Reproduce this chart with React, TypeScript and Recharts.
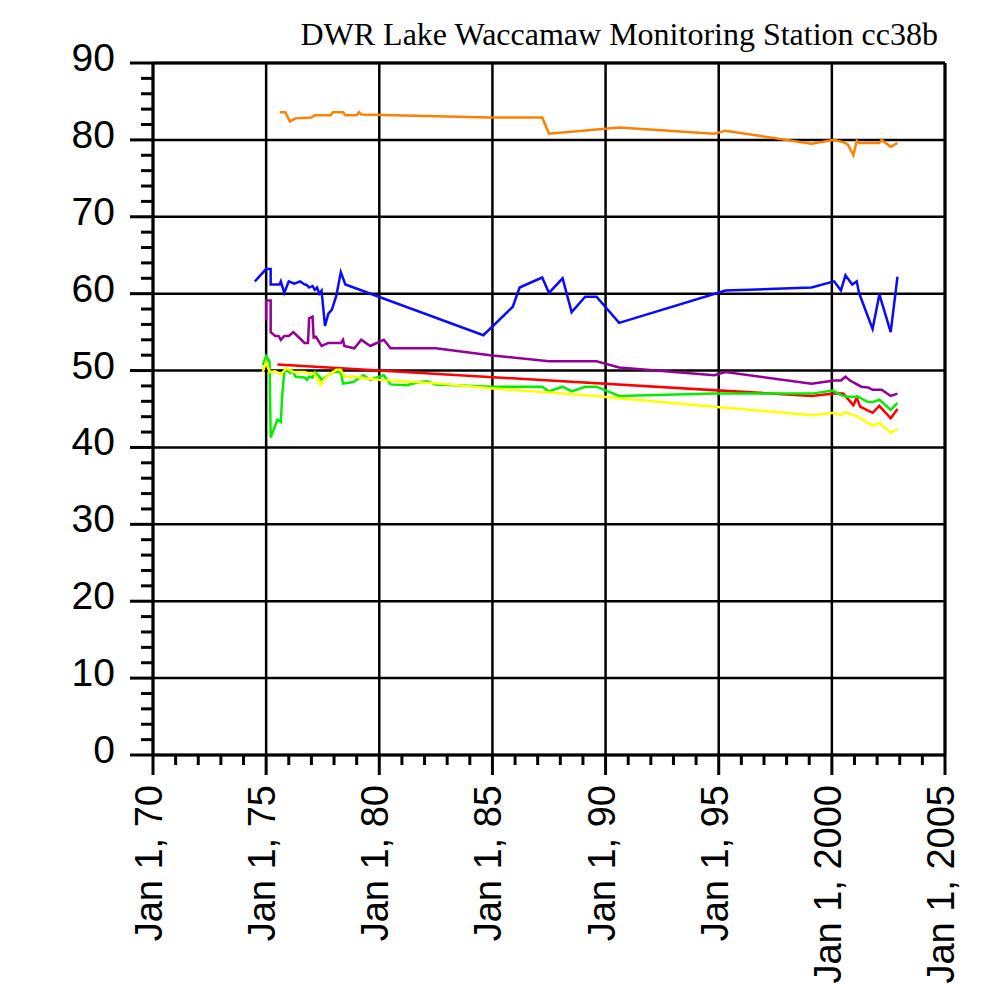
import React from "react";
import { LineChart, Line, XAxis, YAxis, CartesianGrid, ReferenceLine } from "recharts";

// ---- data: [decimal year, value] ----
const orange: number[][] = [
  [1975.6, 83.6], [1975.85, 83.6], [1976.05, 82.4], [1976.3, 82.8], [1977.0, 82.9], [1977.15, 83.2],
  [1977.85, 83.2], [1977.95, 83.6], [1978.4, 83.6], [1978.5, 83.2], [1979.0, 83.2], [1979.1, 83.6],
  [1979.2, 83.3], [1984.9, 82.9], [1987.2, 82.9], [1987.5, 80.8], [1990.6, 81.6], [1994.8, 80.8],
  [1995.3, 81.2], [1999.1, 79.5], [2000.1, 80.0], [2000.5, 79.7], [2000.7, 79.4], [2000.95, 78.0],
  [2001.1, 79.9], [2001.2, 79.6], [2002.1, 79.6], [2002.2, 80.0], [2002.6, 79.1], [2002.9, 79.6],
];
const blue: number[][] = [
  [1974.5, 61.6], [1975.0, 63.2], [1975.2, 63.2], [1975.2, 61.2], [1975.6, 61.2], [1975.65, 61.6],
  [1975.8, 60.1], [1976.0, 61.6], [1976.25, 61.3], [1976.5, 61.6], [1976.7, 61.2], [1976.8, 61.1],
  [1976.9, 60.8], [1977.05, 61.0], [1977.15, 60.5], [1977.25, 60.8], [1977.35, 60.0], [1977.45, 60.4],
  [1977.6, 55.8], [1977.75, 57.4], [1977.9, 57.9], [1978.1, 59.7], [1978.3, 62.8], [1978.5, 61.2],
  [1984.6, 54.6], [1985.9, 58.3], [1986.2, 60.8], [1987.2, 62.1], [1987.5, 60.1], [1988.1, 62.0],
  [1988.5, 57.6], [1989.1, 59.6], [1989.6, 59.6], [1990.6, 56.2], [1995.3, 60.4], [1999.1, 60.8],
  [2000.1, 61.6], [2000.4, 60.4], [2000.6, 62.4], [2000.9, 61.2], [2001.1, 61.6], [2001.2, 60.1],
  [2001.8, 55.4], [2002.1, 59.9], [2002.6, 55.0], [2002.9, 62.2],
];
const purple: number[][] = [
  [1975.0, 56.5], [1975.0, 59.1], [1975.2, 59.1], [1975.2, 55.0], [1975.4, 54.5], [1975.55, 54.5],
  [1975.65, 54.0], [1975.8, 54.5], [1976.0, 54.5], [1976.2, 55.0], [1976.45, 54.3], [1976.7, 53.6],
  [1976.85, 53.6], [1976.9, 56.8], [1977.05, 57.0], [1977.1, 54.3], [1977.2, 54.4], [1977.45, 53.2],
  [1977.75, 53.6], [1978.3, 53.6], [1978.4, 54.0], [1978.45, 53.2], [1978.9, 52.9], [1979.2, 54.0],
  [1979.6, 53.2], [1980.2, 54.0], [1980.5, 52.9], [1982.5, 52.9], [1984.9, 52.0], [1987.5, 51.2],
  [1989.6, 51.2], [1990.6, 50.4], [1994.8, 49.4], [1995.3, 49.8], [1999.1, 48.3], [2000.1, 48.7],
  [2000.4, 48.7], [2000.6, 49.2], [2000.8, 48.7], [2001.3, 47.9], [2001.6, 47.8], [2001.8, 47.5],
  [2002.2, 47.5], [2002.6, 46.7], [2002.9, 47.0],
];
const red: number[][] = [
  [1975.5, 50.8], [1999.1, 46.7], [2000.1, 47.0], [2000.5, 47.0], [2000.95, 45.5], [2001.1, 46.5],
  [2001.25, 45.3], [2001.6, 44.8], [2001.8, 44.5], [2002.1, 45.4], [2002.6, 43.8], [2002.9, 45.0],
];
const green: number[][] = [
  [1974.85, 50.7], [1975.0, 51.9], [1975.15, 51.2], [1975.2, 41.3], [1975.5, 43.6], [1975.65, 43.3],
  [1975.7, 46.4], [1975.8, 49.8], [1975.95, 50.1], [1976.05, 49.7], [1976.15, 50.0], [1976.3, 49.2],
  [1976.7, 49.1], [1976.8, 48.8], [1976.9, 49.2], [1977.05, 49.1], [1977.15, 49.8], [1977.3, 49.4],
  [1977.45, 48.8], [1977.65, 49.2], [1977.95, 49.8], [1978.3, 49.8], [1978.4, 48.3], [1978.85, 48.5],
  [1979.3, 49.4], [1979.6, 48.8], [1980.2, 49.4], [1980.5, 48.2], [1981.2, 48.1], [1981.8, 48.5],
  [1982.1, 48.6], [1982.5, 48.2], [1984.9, 47.9], [1987.2, 47.9], [1987.5, 47.3], [1988.1, 47.9],
  [1988.5, 47.3], [1989.1, 47.9], [1989.6, 47.9], [1990.6, 46.7], [1994.8, 47.0], [1999.1, 47.0],
  [2000.05, 47.4], [2000.4, 46.8], [2000.65, 46.6], [2001.15, 46.6], [2001.6, 45.9], [2001.8, 45.9],
  [2002.1, 46.2], [2002.6, 44.9], [2002.9, 45.8],
];
const yellow: number[][] = [
  [1974.85, 49.8], [1975.0, 51.1], [1975.15, 49.8], [1975.4, 49.9], [1975.65, 49.5], [1975.9, 50.3],
  [1976.2, 49.8], [1976.7, 49.8], [1976.9, 49.6], [1977.15, 49.6], [1977.4, 48.1], [1977.55, 48.8],
  [1977.75, 49.4], [1978.1, 50.1], [1978.3, 50.1], [1978.45, 49.2], [1978.9, 49.2], [1979.4, 49.0],
  [1980.0, 48.8], [1982.7, 48.3], [1984.9, 47.7], [1989.6, 46.7], [1990.6, 46.4], [1994.8, 45.3],
  [1999.1, 44.2], [2000.1, 44.5], [2000.4, 44.2], [2000.6, 44.6], [2000.95, 44.2], [2001.15, 44.0],
  [2001.8, 42.8], [2002.1, 43.2], [2002.6, 41.9], [2002.9, 42.4],
];

const xMajor = [1970, 1975, 1980, 1985, 1990, 1995, 2000, 2005];
const xLabels = ["Jan 1, 70", "Jan 1, 75", "Jan 1, 80", "Jan 1, 85", "Jan 1, 90", "Jan 1, 95", "Jan 1, 2000", "Jan 1, 2005"];
const yMajor = [0, 10, 20, 30, 40, 50, 60, 70, 80, 90];
const xTicks = Array.from({ length: 36 }, (_, i) => 1970 + i);
const yTicks = Array.from({ length: 46 }, (_, i) => i * 2);

const title = "DWR Lake Waccamaw Monitoring Station cc38b";

const series = [
  { name: "orange", data: orange, color: "#ff8000" },
  { name: "blue", data: blue, color: "#0a0aff" },
  { name: "purple", data: purple, color: "#940094" },
  { name: "red", data: red, color: "#ff0000" },
  { name: "green", data: green, color: "#00f000" },
  { name: "yellow", data: yellow, color: "#ffff00" },
];

const toPts = (arr: number[][]) => arr.map(([x, y]) => ({ x, y }));

const FONT = "'Liberation Sans', Arial, Helvetica, sans-serif";

const XTick = (props: any) => {
  const { x, y, payload } = props;
  const v = payload.value;
  const idx = xMajor.indexOf(v);
  if (idx >= 0) {
    return (
      <g>
        <line x1={x} x2={x} y1={y} y2={y + 20} stroke="#000" strokeWidth={3} />
        <text
          x={0}
          y={0}
          transform={`translate(${x + 9},${y + 30}) rotate(-90)`}
          textAnchor="end"
          fontFamily={FONT}
          fontSize={38}
          fill="#000"
        >
          {xLabels[idx]}
        </text>
      </g>
    );
  }
  return <line x1={x} x2={x} y1={y} y2={y + 10} stroke="#000" strokeWidth={3} />;
};

const YTick = (props: any) => {
  const { x, y, payload } = props;
  const v = payload.value;
  if (yMajor.includes(v)) {
    return (
      <g>
        <line x1={x - 23} x2={x} y1={y} y2={y} stroke="#000" strokeWidth={3} />
        <text x={x - 38} y={y + 8} textAnchor="end" fontFamily={FONT} fontSize={39} fill="#000">
          {v}
        </text>
      </g>
    );
  }
  return <line x1={x - 12} x2={x} y1={y} y2={y} stroke="#000" strokeWidth={3} />;
};

export default function App() {
  return (
    <div style={{ position: "absolute", left: 0, top: 0, width: 981, height: 998, background: "#fff", overflow: "hidden" }}>
      <div
        style={{
          position: "absolute",
          left: 0,
          top: 18,
          width: 938,
          textAlign: "right",
          fontFamily: "'Liberation Serif', 'Times New Roman', serif",
          fontSize: 32,
          lineHeight: "32px",
          color: "#000",
          whiteSpace: "nowrap",
        }}
      >
        {title}
      </div>
      <LineChart width={981} height={998} margin={{ top: 63, right: 36, left: 0, bottom: 0 }}>
        <CartesianGrid
          horizontal
          vertical
          stroke="#000"
          strokeWidth={2.5}
          horizontalValues={yMajor}
          verticalValues={xMajor}
        />
        <XAxis
          type="number"
          dataKey="x"
          domain={[1970, 2005]}
          ticks={xTicks}
          interval={0}
          height={243}
          tickSize={0}
          tickMargin={0}
          tickLine={false}
          axisLine={{ stroke: "#000", strokeWidth: 3 }}
          tick={<XTick />}
          allowDataOverflow
        />
        <YAxis
          type="number"
          dataKey="y"
          domain={[0, 90]}
          ticks={yTicks}
          interval={0}
          width={153}
          tickSize={0}
          tickMargin={0}
          tickLine={false}
          axisLine={{ stroke: "#000", strokeWidth: 3 }}
          tick={<YTick />}
          allowDataOverflow
        />
        <ReferenceLine y={90} stroke="#000" strokeWidth={3} />
        <ReferenceLine x={2005} stroke="#000" strokeWidth={3} />
        {series.map((s) => (
          <Line
            key={s.name}
            data={toPts(s.data)}
            dataKey="y"
            type="linear"
            stroke={s.color}
            strokeWidth={2.5}
            dot={false}
            activeDot={false}
            isAnimationActive={false}
          />
        ))}
      </LineChart>
    </div>
  );
}
